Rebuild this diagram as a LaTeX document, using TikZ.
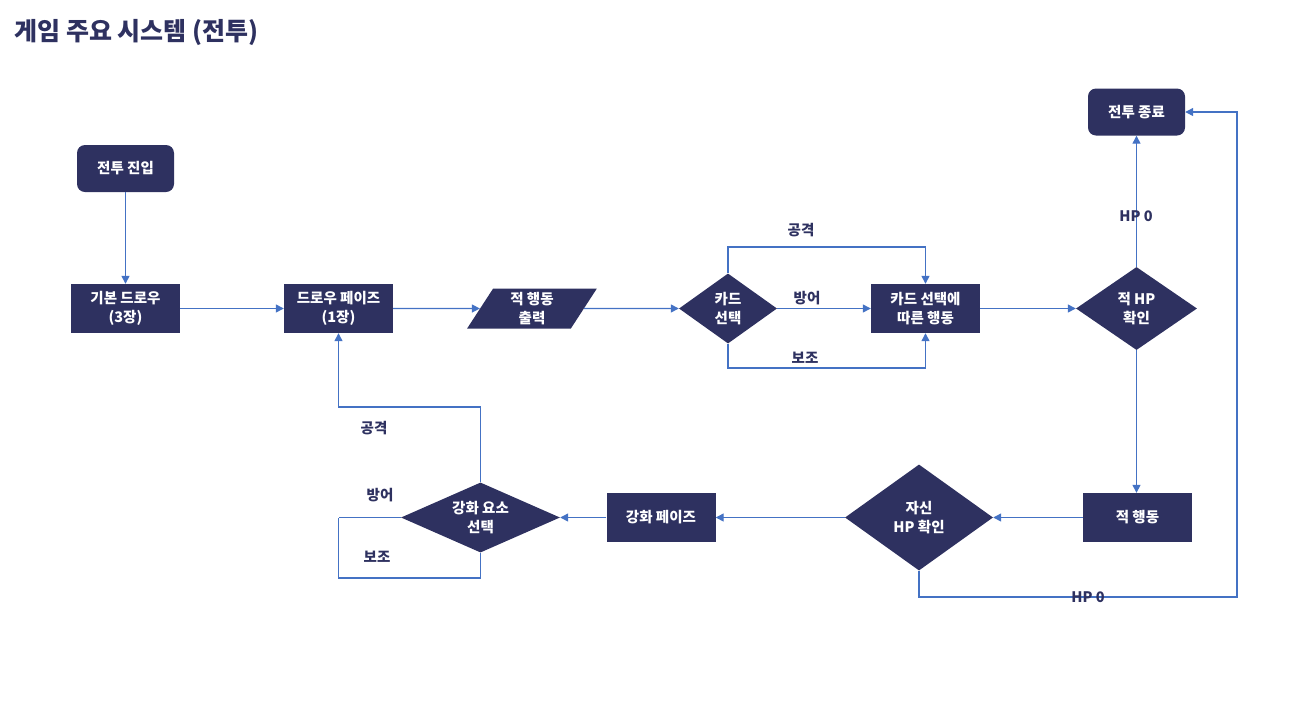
\documentclass[tikz,border=0pt]{standalone}
\usepackage{fontspec}
\setmainfont{Noto Sans CJK KR}
\usetikzlibrary{arrows.meta,shapes.geometric}
\definecolor{gnavy}{HTML}{2E3160}
\definecolor{gblue}{HTML}{4472C4}
\newcommand{\gfont}{\fontsize{14.5pt}{19pt}\selectfont\bfseries}
\tikzset{
  blk/.style  = {rectangle, fill=gnavy, text=white, minimum width=109pt,
                 minimum height=49pt, font=\gfont, align=center, inner sep=2pt},
  rnd/.style  = {blk, rounded corners=8pt, minimum width=97pt, minimum height=47pt},
  dec/.style  = {diamond, fill=gnavy, text=white, inner sep=-20pt,
                 font=\gfont, align=center},
  io/.style   = {trapezium, trapezium left angle=66, trapezium right angle=114,
                 trapezium stretches=true, fill=gnavy, text=white,
                 minimum width=130pt, minimum height=40pt, font=\gfont,
                 align=center, inner sep=0pt},
  ed/.style   = {-{Triangle[length=8pt,width=8pt]}, draw=gblue, line width=1.3pt},
  ln/.style   = {draw=gblue, line width=1.3pt},
  lbl/.style  = {font=\gfont, text=gnavy, inner sep=1pt},
}

\begin{document}
\begin{tikzpicture}[x=1pt,y=-1pt]
  \useasboundingbox (0,0) rectangle (1312,724);
  \node[anchor=west, text=gnavy, font=\fontsize{25pt}{30pt}\selectfont\bfseries]
    (title) at (11,32) {게임 주요 시스템 (전투)};
  % upper row
  \node[rnd] (start) at (125.5,168.5) {전투 진입};
  \node[blk] (bdraw) at (125.5,308.5) {기본 드로우\\(3장)};
  \node[blk] (dphase) at (338.5,308.5) {드로우 페이즈\\(1장)};
  \node[io] (eout) at (532,308.5) {적 행동\\출력};
  \node[dec, minimum width=98pt, minimum height=70pt] (csel) at (728,308.5) {카드\\선택};
  \node[blk] (cact) at (925.5,308.5) {카드 선택에\\따른 행동};
  \node[dec, minimum width=121pt, minimum height=83pt] (ehp) at (1136.5,308.5) {적 HP\\확인};
  \node[rnd] (fin) at (1136.5,112) {전투 종료};
  % lower row
  \node[blk] (eact) at (1137.5,517.5) {적 행동};
  \node[dec, minimum width=148pt, minimum height=106pt] (shp) at (919,517.5) {자신\\HP 확인};
  \node[blk] (rphase) at (661,517.5) {강화 페이즈};
  \node[dec, minimum width=159pt, minimum height=70pt] (rsel) at (480.5,517.5) {강화 요소\\선택};

  \draw[ed] (start) -- (bdraw);
  \draw[ed] (bdraw) -- (dphase);
  \draw[ed] (dphase) -- (eout);
  \draw[ed] (eout) -- (csel);
  \draw[ed] (csel.north) -- (728,247) -| (cact.north);
  \draw[ed] (csel.east) -- (cact.west);
  \draw[ed] (csel.south) -- (728,368) -| (cact.south);
  \node[lbl] (latk) at (801,230) {공격};
  \node[lbl] (ldef) at (807,298) {방어};
  \node[lbl] (lsup) at (805,358) {보조};
  \draw[ed] (cact) -- (ehp);
  \draw[ed] (ehp.north) -- (fin.south);
  \node[lbl] (lhp1) at (1136,216) {HP 0};
  \draw[ed] (ehp.south) -- (ehp.south |- eact.north);
  \draw[ed] (eact) -- (shp.east);
  \draw[ed] (shp.south) |- (1237,597) |- (fin.east);
  \node[lbl] (lhp2) at (1088,597) {HP 0};
  \draw[ed] (shp.west) -- (rphase.east);
  \draw[ed] (rphase.west) -- (rsel.east);
  \draw[ed] (rsel.north) -- (480.5,407) -| (dphase.south);
  \draw[ln] (rsel.west) -- (338.5,517.5);
  \draw[ln] (rsel.south) -- (480.5,578) -| (338.5,517.5);
  \node[lbl] (latk2) at (374,428) {공격};
  \node[lbl] (ldef2) at (380,495) {방어};
  \node[lbl] (lsup2) at (377,557) {보조};
\end{tikzpicture}
\end{document}
